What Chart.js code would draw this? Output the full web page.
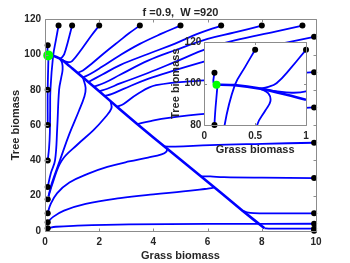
<!DOCTYPE html>
<html>
<head>
<meta charset="utf-8">
<script src="https://cdn.jsdelivr.net/npm/chart.js@4.4.1/dist/chart.umd.min.js"></script>
<style>
  html, body { margin: 0; padding: 0; background: #fff; }
  #wrap { position: relative; width: 350px; height: 263px; }
  #main { position: absolute; left: 0; top: 0; }
  #inset { position: absolute; left: 160px; top: 30px; }
</style>
</head>
<body>
<div id="wrap">
  <canvas id="main" width="350" height="263"></canvas>
  <canvas id="inset" width="160" height="130"></canvas>
</div>
<script>
// initial conditions (black dots)
const leftDotX = 0.1;
const leftDotY = [105.3, 80, 60, 40, 25, 18, 10, 5, 1.5];
const topDotY = 116.4;
const topDotX = [0.5, 1, 2, 3.5, 5, 6.5, 8, 9.5];
const rightDotX = 9.93;
const rightDotY = [110, 90, 70, 50, 30, 10, 4.1, 1.3, 0.2];
const equilibrium = [0.12, 99.5];

// trajectories, [grass, tree]
const diag = [[0.12, 99.5], [0.3, 99.3], [0.55, 97.6], [0.8, 94.8], [1.0, 92.2], [2.0, 79.2], [2.77, 68.8], [3.4, 60.6], [4.6, 45.4], [5.75, 31.0], [7.3, 11.4], [8.1, 1.5]];
const fromR1 = [[9.93, 1.3], [8.8, 1.3], [8.25, 1.35], [8.1, 1.5]];
const fromL1 = [[0.1, 1.5], [0.4, 2.4], [1.2, 3.0], [3.1, 3.7], [6, 4.0], [9.93, 4.1]];
const fromR10 = [[9.93, 10], [8.5, 10], [7.7, 10.1], [7.45, 10.6], [7.3, 11.4]];
const fromL5 = [[0.1, 5], [0.3, 8], [0.7, 11.5], [1.5, 15.3], [2.77, 18.6], [4, 20.8], [5.1, 22.4], [5.9, 23.8], [6.15, 24.3], [6.25, 24.7]];
const fromR30 = [[9.93, 30], [8, 30.2], [6.6, 30.5], [6.1, 30.9], [5.75, 31.0]];
const fromL10 = [[0.1, 10], [0.2, 15], [0.45, 21.5], [0.9, 27.5], [1.6, 32.5], [2.3, 36.3], [3.1, 39.4], [3.8, 41.6], [4.3, 43.4], [4.48, 45], [4.5, 46.7]];
const fromR50 = [[9.93, 50], [8, 49.4], [6.1, 48.7], [4.8, 47.8], [4.4, 47.9]];
const fromR70 = [[9.93, 70], [8, 68.3], [6, 66.5], [4.5, 64], [3.9, 62.3], [3.4, 60.6]];
const fromR90 = [[9.93, 90], [8, 88], [6, 85.5], [4.1, 82.6], [3.4, 77.5], [2.9, 72], [2.65, 70.4]];
const fromR110 = [[9.93, 110], [8.5, 105.5], [7, 100.5], [6, 96.5], [4.8, 91.1], [3.8, 86.2], [2.9, 80.5], [2.45, 77.5], [2.2, 76.5]];
const fromT95 = [[9.5, 116.4], [8.5, 113], [7, 108], [6, 103.5], [4.8, 95.8], [3.8, 89.5], [2.77, 83.6], [2.3, 80.6], [2.0, 79.2]];
const fromT8 = [[8, 116.4], [7, 112.5], [6, 108.8], [4.8, 102.4], [3.8, 96.5], [2.77, 88.5], [2.2, 84], [1.8, 81.8]];
const fromT65 = [[6.5, 116.4], [5.6, 111.5], [4.8, 106.2], [3.8, 100.3], [2.77, 94], [2.1, 88.5], [1.6, 84.4]];
const fromT5 = [[5, 116.4], [4.3, 111.8], [3.5, 106], [2.77, 99.6], [2.1, 93], [1.7, 89.2], [1.4, 86.9]];
const fromT35 = [[3.5, 116.4], [3.1, 112], [2.77, 108], [2.2, 101], [1.7, 94.5], [1.4, 91], [1.2, 89.6]];
const fromT2 = [[2, 116.4], [1.7, 110.5], [1.35, 103], [1.0, 96.3], [0.86, 95.6], [0.7, 96.4], [0.55, 97.6]];
const fromT1 = [[1, 116.4], [0.85, 107.5], [0.71, 100.2], [0.62, 98.3], [0.55, 97.6]];
const fromL40 = [[0.1, 40], [0.15, 47], [0.18, 56], [0.19, 68], [0.2, 80], [0.3, 99.3], [0.4, 108], [0.5, 116.4]];
const fromL25 = [[0.1, 25], [0.22, 33], [0.37, 40], [0.45, 58], [0.52, 80], [0.6, 87], [0.65, 91.5], [0.63, 95.3], [0.55, 97.6]];
const fromL18a = [[0.1, 18], [0.25, 27], [0.55, 40], [0.9, 55], [1.25, 68], [1.45, 76], [1.5, 81], [1.4, 86.9]];
const fromL18b = [[0.1, 18], [0.3, 28], [0.62, 40], [1.2, 49], [1.78, 57], [2.2, 64], [2.45, 69.5], [2.42, 73.5]];
const fromL60 = [[0.1, 60], [0.1, 80], [0.13, 99.5]];
const fromL105 = [[0.1, 105.3], [0.09, 100.5], [0.12, 99.5]];

const trajectories = [fromR1, fromL1, fromR10, fromL5, fromR30, fromL10, fromR50, fromR70, fromR90,
  fromR110, fromT95, fromT8, fromT65, fromT5, fromT35, fromT2, fromT1, fromL40, fromL25,
  fromL18a, fromL18b, fromL60, fromL105];

const FONT = "'Liberation Sans', Arial, Helvetica, sans-serif";
const TXT = '#262626';
const BLUE = '#0000ff';

const toPts = arr => arr.map(([x, y]) => ({ x, y }));
const allDots = [
  ...leftDotY.map(y => ({ x: leftDotX, y })),
  ...topDotX.map(x => ({ x, y: topDotY })),
  ...rightDotY.map(y => ({ x: rightDotX, y })),
];

function buildDatasets(dots, greenR, dotR) {
  const sets = [
    { data: [{ x: equilibrium[0], y: equilibrium[1] }], pointRadius: greenR, pointBackgroundColor: '#00ff00', pointBorderWidth: 0, showLine: false, clip: false },
    { data: dots, pointRadius: dotR, pointBackgroundColor: '#000', pointBorderWidth: 0, showLine: false, clip: false },
    { data: toPts(diag), showLine: true, borderColor: BLUE, borderWidth: 2.6, pointRadius: 0, tension: 0.2 },
  ];
  trajectories.forEach(t => sets.push({ data: toPts(t), showLine: true, borderColor: BLUE, borderWidth: 1.8, pointRadius: 0, tension: 0.4 }));
  return sets;
}

// box with inward ticks, white plot background for the inset
const frame = {
  id: 'frame',
  beforeDraw(chart, args, opts) {
    if (!opts.fill) return;
    const { ctx, chartArea: a } = chart;
    ctx.save();
    ctx.fillStyle = '#fff';
    ctx.fillRect(a.left, a.top, a.right - a.left, a.bottom - a.top);
    ctx.restore();
  },
  afterDatasetsDraw(chart, args, opts) {
    const { ctx, chartArea: a, scales: { x, y } } = chart;
    const L = Math.round(a.left) + 0.5, R = Math.round(a.right) + 0.5;
    const T = Math.round(a.top) + 0.5, B = Math.round(a.bottom) + 0.5;
    const len = opts.tick || 3;
    ctx.save();
    ctx.strokeStyle = '#8c8c8c';
    ctx.lineWidth = 1;
    ctx.beginPath();
    ctx.rect(L, T, R - L, B - T);
    x.ticks.forEach(t => {
      const px = Math.round(x.getPixelForValue(t.value)) + 0.5;
      ctx.moveTo(px, B); ctx.lineTo(px, B - len);
      ctx.moveTo(px, T); ctx.lineTo(px, T + len);
    });
    y.ticks.forEach(t => {
      const py = Math.round(y.getPixelForValue(t.value)) + 0.5;
      ctx.moveTo(L, py); ctx.lineTo(L + len, py);
      ctx.moveTo(R, py); ctx.lineTo(R - len, py);
    });
    ctx.stroke();
    ctx.restore();
  }
};

function axis(min, max, step, size, labelPad, title, titlePad) {
  return {
    type: 'linear', min, max,
    afterFit(s) { if (s.isHorizontal()) s.height = size; else s.width = size; },
    ticks: { stepSize: step, padding: labelPad, color: TXT, maxRotation: 0, callback: v => String(v), font: { family: FONT, size: 10, weight: 'bold' } },
    grid: { display: false, drawTicks: false },
    border: { display: false },
    title: { display: true, text: title, color: TXT, padding: titlePad, font: { family: FONT, size: 11, weight: 'bold' } }
  };
}

const common = {
  type: 'scatter',
  plugins: [frame],
};

new Chart(document.getElementById('main'), {
  ...common,
  data: { datasets: buildDatasets(allDots, 5, 3) },
  options: {
    responsive: false, animation: false, events: [], devicePixelRatio: 1,
    elements: { line: { capBezierPoints: false } },
    layout: { padding: { left: 0, right: 34, top: 0, bottom: 0 } },
    scales: {
      x: axis(0, 10, 2, 32, 5, 'Grass biomass', { top: 0, bottom: 0.4 }),
      y: axis(0, 120, 20, 45, 4, 'Tree biomass', { top: 9.4, bottom: 0 })
    },
    plugins: {
      legend: { display: false }, tooltip: { enabled: false },
      title: { display: true, fullSize: false, text: 'f =0.9,  W =920', color: TXT, padding: { top: 6, bottom: 0 }, font: { family: FONT, size: 11, weight: 'bold' } },
      frame: { fill: false, tick: 3 }
    }
  }
});

const insetDots = allDots.filter(p => p.x >= 0 && p.x <= 1 && p.y >= 80 && p.y <= 120);
new Chart(document.getElementById('inset'), {
  ...common,
  data: { datasets: buildDatasets(insetDots, 4, 3) },
  options: {
    responsive: false, animation: false, events: [], devicePixelRatio: 1,
    elements: { line: { capBezierPoints: false } },
    layout: { padding: { left: 0, right: 14, top: 12.3, bottom: 0 } },
    scales: {
      x: axis(0, 1, 0.5, 35, 5, 'Grass biomass', { top: 0, bottom: 3.4 }),
      y: axis(80, 120, 20, 44.3, 3, 'Tree biomass', { top: 9, bottom: 0 })
    },
    plugins: {
      legend: { display: false }, tooltip: { enabled: false },
      frame: { fill: true, tick: 2.5 }
    }
  }
});
</script>
</body>
</html>
